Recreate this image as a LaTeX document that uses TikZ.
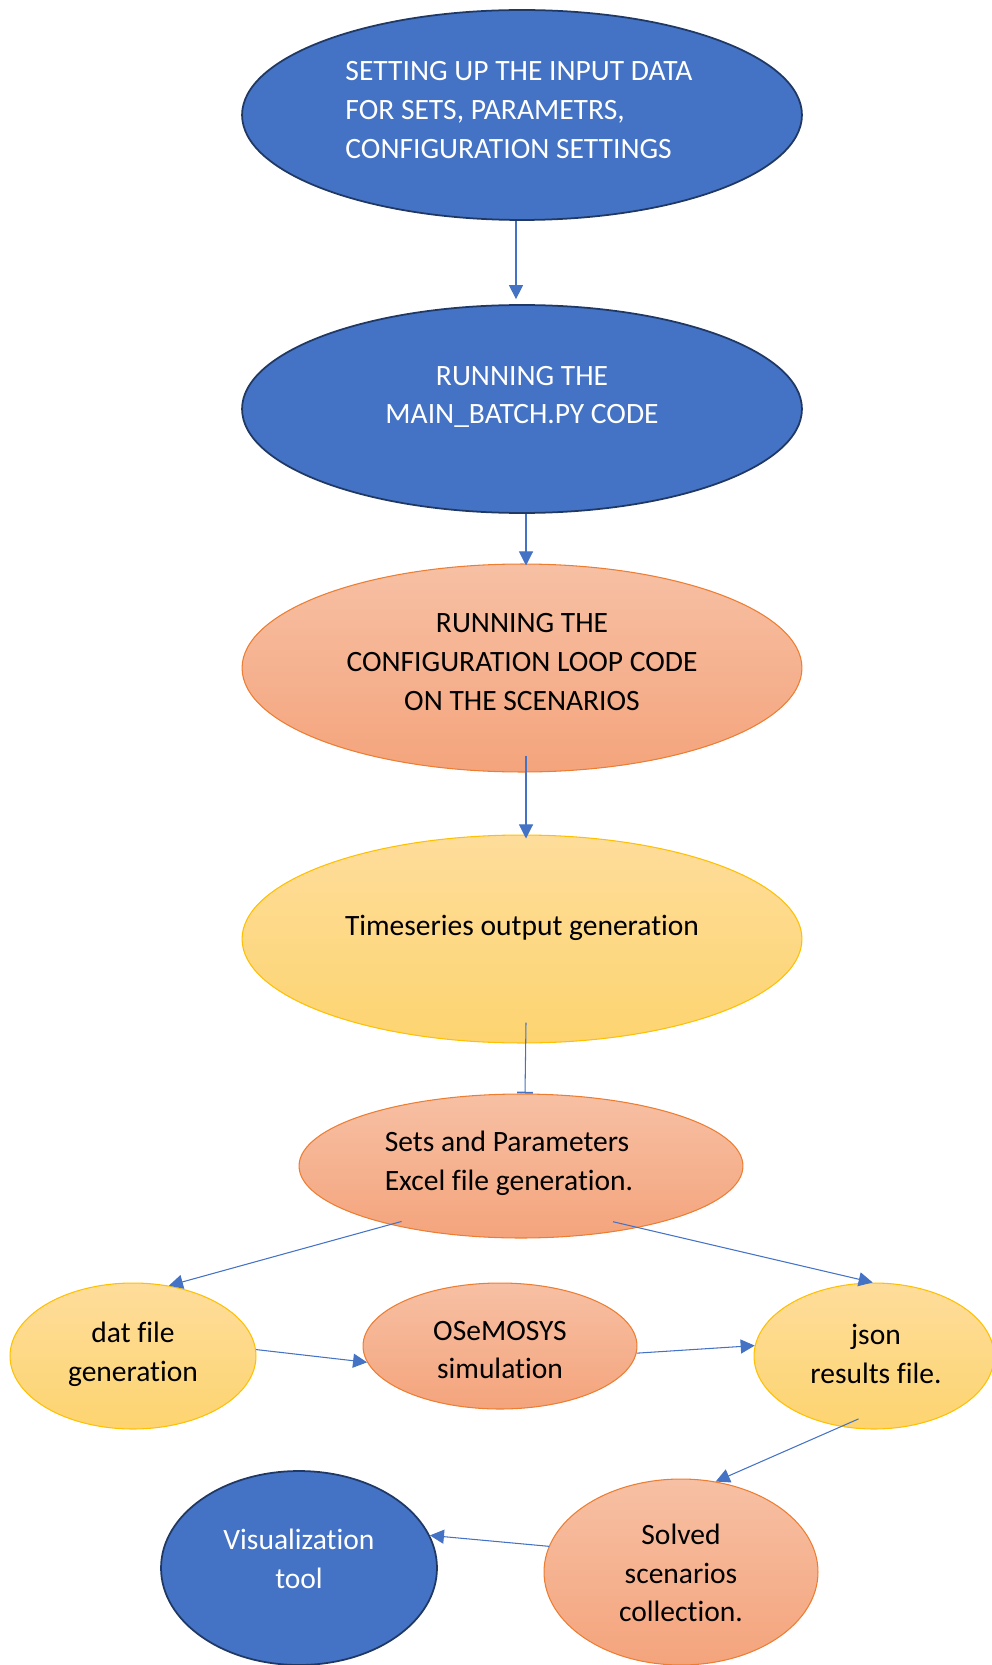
\documentclass[tikz,border=0pt]{standalone}
\usepackage{fontspec}
\setmainfont[Ligatures=NoCommon]{Carlito}
\usetikzlibrary{shapes.geometric, arrows.meta, calc}

\definecolor{ovalblue}{HTML}{4472C4}
\definecolor{ovalnavy}{HTML}{203864}
\definecolor{orangetop}{HTML}{F7C0A4}
\definecolor{orangebot}{HTML}{F4A47C}
\definecolor{orangeline}{HTML}{ED7D31}
\definecolor{yellowtop}{HTML}{FEDD9B}
\definecolor{yellowbot}{HTML}{FDD470}
\definecolor{yellowline}{HTML}{FFC000}

\tikzset{
  oval/.style={ellipse, inner sep=0pt},
  blueoval/.style={oval, fill=ovalblue, draw=ovalnavy, line width=1pt},
  orangeoval/.style={oval, draw=orangeline, line width=0.6pt, top color=orangetop, bottom color=orangebot},
  yellowoval/.style={oval, draw=yellowline, line width=0.6pt, top color=yellowtop, bottom color=yellowbot},
  caption/.style={font=\fontsize{16.8}{22}\selectfont, align=center},
  flow/.style={draw=ovalblue, line width=0.6pt, -{Triangle[length=8pt,width=8pt]}},
}

\begin{document}
\begin{tikzpicture}[x=0.02cm, y=-0.02cm]
    \useasboundingbox (0,0) rectangle (991,1665);

    % main chain
    \node[blueoval, minimum width=11.2cm, minimum height=4.2cm] (setup) at (522,115) {};
    \node[caption, align=left, text=white] (setup-txt) at (519,110)
        {SETTING UP THE INPUT DATA\\FOR SETS, PARAMETRS,\\CONFIGURATION SETTINGS};

    \node[blueoval, minimum width=11.2cm, minimum height=4.16cm] (run) at (522,409) {};
    \node[caption, text=white] (run-txt) at (522,397) {RUNNING THE\\MAIN\_BATCH.PY CODE};

    \node[orangeoval, minimum width=11.2cm, minimum height=4.16cm] (conf) at (522,668) {};
    \node[caption] (conf-txt) at (522,662)
        {RUNNING THE\\CONFIGURATION LOOP CODE\\ON THE SCENARIOS};

    \node[yellowoval, minimum width=11.2cm, minimum height=4.16cm] (series) at (522,939) {};
    \node[caption] (series-txt) at (522,928) {Timeseries output generation};

    \node[orangeoval, minimum width=8.88cm, minimum height=2.88cm] (sets) at (521,1166) {};
    \node[caption, align=left] (sets-txt) at (509,1163) {Sets and Parameters\\Excel file generation.};

    % middle row
    \node[yellowoval, minimum width=4.92cm, minimum height=2.92cm] (dat) at (133,1356) {};
    \node[caption] (dat-txt) at (133,1354) {dat file\\generation};

    \node[orangeoval, minimum width=5.48cm, minimum height=2.52cm] (ose) at (500,1346) {};
    \node[caption] (ose-txt) at (500,1350) {OSeMOSYS\\simulation};

    \node[yellowoval, minimum width=4.8cm, minimum height=2.92cm] (json) at (874,1356) {};
    \node[caption] (json-txt) at (876,1354) {json\\results file.};

    % bottom row
    \node[blueoval, minimum width=5.52cm, minimum height=3.88cm] (vis) at (299,1568) {};
    \node[caption, text=white] (vis-txt) at (299,1559) {Visualization\\tool};

    \node[orangeoval, minimum width=5.48cm, minimum height=3.72cm] (solved) at (681,1572) {};
    \node[caption] (solved-txt) at (681,1573) {Solved\\scenarios\\collection.};

    % connectors
    \draw[flow] ($(setup.south)+(-6,0)$) -- ($(run.north)+(-6,-5)$);
    \draw[flow] ($(run.south)+(4,0)$) -- ($(conf.north)+(4,2)$);
    \draw[flow] ($(conf.south)+(4,-17)$) -- ($(series.north)+(4,4)$);
    \draw[draw=ovalblue, line width=0.6pt, -{Bar[width=9pt, line width=1pt]}] ($(series.south)+(4,-21)$) -- ($(sets.north)+(4,0)$);

    \draw[flow] ($(sets.205)+(8,-4)$) -- (dat.63);
    \draw[flow] ($(sets.329)+(-14,-8)$) -- (json.91);
    \draw[flow] (dat.3) -- (ose.187);
    \draw[flow] (ose.357) -- (json.175);
    \draw[flow] ($(json.258)+(0,-10)$) -- (solved.69);
    \draw[flow] (solved.169) -- (vis.14);
\end{tikzpicture}
\end{document}
